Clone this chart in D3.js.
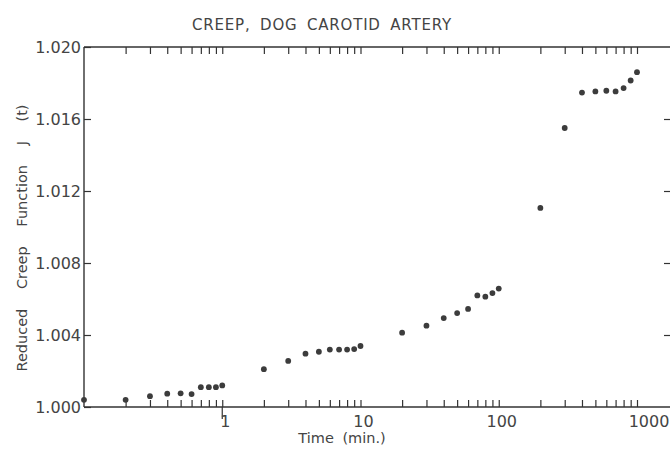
<!DOCTYPE html>
<html>
<head>
<meta charset="utf-8">
<script src="https://cdn.jsdelivr.net/npm/d3@7"></script>
<style>
  html, body { margin: 0; padding: 0; background: #fff; }
  svg { display: block; }
  text { font-family: "DejaVu Sans", sans-serif; fill: #444; }
</style>
</head>
<body>
<svg id="chart" width="670" height="451"></svg>
<script>
// Creep test, dog carotid artery: reduced creep function vs. time (log scale)
const timeMin = [0.1, 0.2, 0.3, 0.4, 0.5, 0.6, 0.7, 0.8, 0.9, 1,
                 2, 3, 4, 5, 6, 7, 8, 9, 10,
                 20, 30, 40, 50, 60, 70, 80, 90, 100,
                 200, 300, 400, 500, 600, 700, 800, 900, 1000];
const creepJ = [1.0004, 1.0004, 1.0006, 1.00074, 1.00076, 1.00072, 1.0011, 1.0011, 1.0011, 1.0012,
                1.0021, 1.00256, 1.00296, 1.00307, 1.00319, 1.00319, 1.00319, 1.00322, 1.00339,
                1.00413, 1.00452, 1.00494, 1.00522, 1.00545, 1.0062, 1.00613, 1.00633, 1.00658,
                1.01106, 1.0155, 1.01747, 1.01753, 1.01757, 1.01753, 1.01772, 1.01814, 1.0186];
const xTickLabels = [1, 10, 100, 1000];
const yTickValues = [1.000, 1.004, 1.008, 1.012, 1.016, 1.020];

const svg = d3.select("#chart");
const plotLeft = 84, plotRight = 671, plotTop = 47, plotBottom = 407;

const x = d3.scaleLog().domain([0.1, 1000]).range([plotLeft, 637]);
const y = d3.scaleLinear().domain([1.000, 1.020]).range([plotBottom, plotTop]);

// minor log ticks: 2..9 in each decade plus decade marks
const minorTicks = [];
for (let e = -1; e <= 2; e++) {
  for (let m = 1; m <= 9; m++) {
    const v = m * Math.pow(10, e);
    if (v > 0.1) minorTicks.push(v);
  }
}
minorTicks.push(1000);

const ink = "#333";

// frame
const frame = svg.append("g").attr("stroke", ink).attr("stroke-width", 1.4).attr("fill", "none");
frame.append("line").attr("x1", plotLeft).attr("x2", plotLeft).attr("y1", plotTop).attr("y2", plotBottom);
frame.append("line").attr("x1", plotLeft).attr("x2", plotRight).attr("y1", plotBottom).attr("y2", plotBottom);
frame.append("line").attr("x1", plotLeft).attr("x2", plotRight).attr("y1", plotTop).attr("y2", plotTop);

// bottom axis: ticks pointing inward
const xAxisB = d3.axisBottom(x).tickValues(minorTicks).tickSize(-7).tickFormat("");
const gB = svg.append("g").attr("transform", `translate(0,${plotBottom})`).call(xAxisB);
gB.select(".domain").remove();
gB.selectAll(".tick line").attr("stroke", ink).attr("stroke-width", 1.2);

// long tick at t = 1 reaching below the axis
svg.append("line").attr("x1", x(1)).attr("x2", x(1)).attr("y1", plotBottom).attr("y2", plotBottom + 12)
  .attr("stroke", ink).attr("stroke-width", 1.2);

// top axis: ticks pointing inward
const xAxisT = d3.axisTop(x).tickValues(minorTicks).tickSize(-7).tickFormat("");
const gT = svg.append("g").attr("transform", `translate(0,${plotTop})`).call(xAxisT);
gT.select(".domain").remove();
gT.selectAll(".tick line").attr("stroke", ink).attr("stroke-width", 1.2);

// x tick labels
svg.append("g").selectAll("text").data(xTickLabels).join("text")
  .attr("x", d => x(d) + (d === 1000 ? 12 : 3))
  .attr("y", 427)
  .attr("text-anchor", "middle")
  .attr("font-size", 16)
  .text(d => d);

// left axis
const yAxisL = d3.axisLeft(y).tickValues(yTickValues).tickSize(-7).tickFormat("");
const gL = svg.append("g").attr("transform", `translate(${plotLeft},0)`).call(yAxisL);
gL.select(".domain").remove();
gL.selectAll(".tick line").attr("stroke", ink).attr("stroke-width", 1.2);

svg.append("g").selectAll("text").data(yTickValues).join("text")
  .attr("x", plotLeft - 3)
  .attr("y", d => y(d))
  .attr("dy", "0.36em")
  .attr("text-anchor", "end")
  .attr("font-size", 16)
  .text(d => d3.format(".3f")(d));

// right axis ticks
const yAxisR = d3.axisRight(y).tickValues(yTickValues.slice(1, 5)).tickSize(-6).tickFormat("");
const gR = svg.append("g").attr("transform", `translate(${plotRight - 1},0)`).call(yAxisR);
gR.select(".domain").remove();
gR.selectAll(".tick line").attr("stroke", ink).attr("stroke-width", 1.2);

// data points
svg.append("g").selectAll("circle").data(timeMin).join("circle")
  .attr("cx", d => x(d))
  .attr("cy", (d, i) => y(creepJ[i]))
  .attr("r", 2.9)
  .attr("fill", "#3c3c3c");

// title
svg.append("text").attr("x", 322).attr("y", 30).attr("text-anchor", "middle")
  .attr("font-size", 15).attr("letter-spacing", 0.8).attr("word-spacing", 4)
  .text("CREEP, DOG CAROTID ARTERY");

// x axis title
svg.append("text").attr("x", 342).attr("y", 443).attr("text-anchor", "middle")
  .attr("font-size", 14.5).attr("word-spacing", 4)
  .text("Time (min.)");

// y axis title
svg.append("text")
  .attr("transform", "translate(27,238) rotate(-90)")
  .attr("text-anchor", "middle")
  .attr("font-size", 14.5).attr("word-spacing", 15)
  .text("Reduced Creep Function J (t)");
</script>
</body>
</html>
